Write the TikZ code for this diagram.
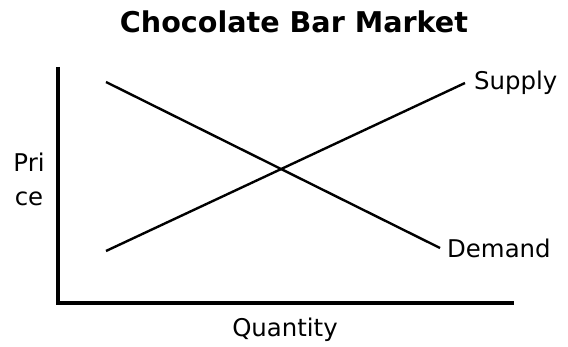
\documentclass[tikz,border=0pt]{standalone}
\usepackage{fontspec}
\setmainfont{DejaVu Sans}
\usetikzlibrary{positioning}

\begin{document}
\begin{tikzpicture}[
  x=1pt,y=-1pt,
  every node/.style={font=\fontsize{24.4}{34}\selectfont,inner sep=0pt},
  ttl/.style={font=\fontsize{28.6}{32}\selectfont\bfseries},
  ax/.style={line width=4.5pt},
  crv/.style={line width=2.4pt},
]

%% ── Canvas ───────────────────────────────────────────────────────────────
\useasboundingbox[fill=white] (0,0) rectangle (568,347);

%% ── Title ────────────────────────────────────────────────────────────────
\node[ttl] (title) at (294,22) {Chocolate Bar Market};

%% ── Axes ─────────────────────────────────────────────────────────────────
\coordinate (ytop) at (58,67);
\coordinate (xend) at (514,303);
\draw[ax] (ytop) |- (xend);

\node[align=center] (price) at (29,179) {Pri\\ce};
\node (qty) at (285,330) {Quantity};

%% ── Supply and demand ────────────────────────────────────────────────────
\coordinate (s0) at (106,251);
\coordinate (s1) at (465,83);
\coordinate (d0) at (106,82);
\coordinate (d1) at (440,248);

\node[right=9pt of s1] (supply) {Supply};
\node[right=7pt of d1] (demand) {Demand};

\draw[crv] (s0) -- (s1);
\draw[crv] (d0) -- (d1);

\end{tikzpicture}
\end{document}
